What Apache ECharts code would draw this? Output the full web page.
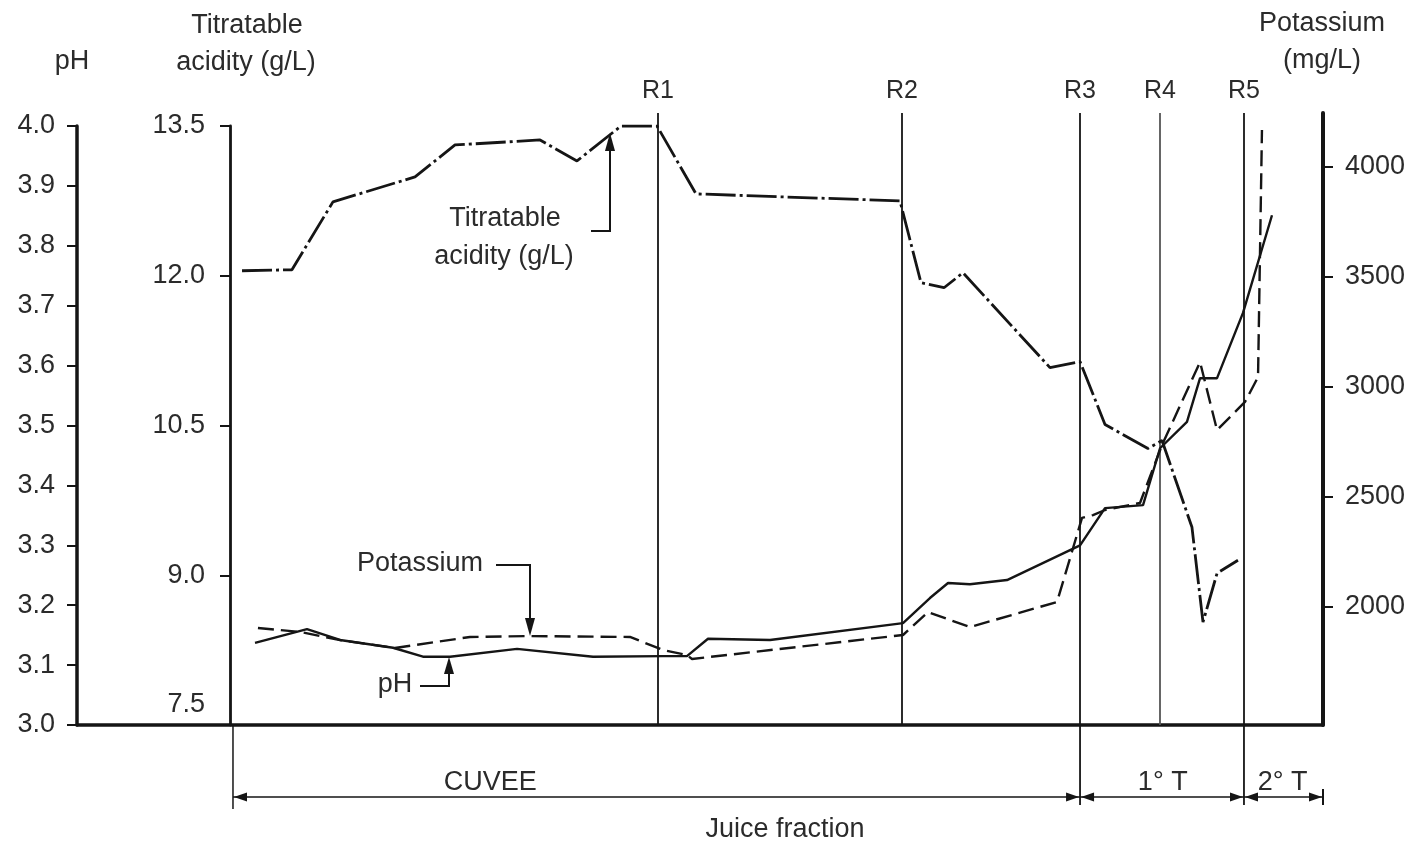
<!DOCTYPE html>
<html><head><meta charset="utf-8">
<script src="https://cdn.jsdelivr.net/npm/echarts@6/dist/echarts.min.js"></script>
<style>html,body{margin:0;padding:0;background:#fff}#c{width:1420px;height:845px}</style>
</head><body><div id="c"></div>
<script>
// ---------- data (juice fraction in % of total press cycle) ----------
const fractionNames = ['R1', 'R2', 'R3', 'R4', 'R5'];
const fractionX = [38.99, 61.38, 77.71, 85.05, 92.75];
const phaseNames = ['CUVEE', '1° T', '2° T'];
const phaseBounds = [0, 77.71, 92.75, 100];
const phaseLabelX = [23.6, 85.3, 96.3];

const phTicks = [3.0, 3.1, 3.2, 3.3, 3.4, 3.5, 3.6, 3.7, 3.8, 3.9, 4.0];
const taTicks = [7.5, 9.0, 10.5, 12.0, 13.5];
const kTicks = [2000, 2500, 3000, 3500, 4000];

const taX = [0.83, 5.41, 9.17, 16.70, 20.37, 28.17, 31.56, 35.60, 38.90, 42.48, 61.19, 63.12, 65.23, 66.97, 74.95, 77.71, 80.00, 83.94, 85.23, 87.98, 88.99, 90.28, 92.20];
const taY = [12.05, 12.06, 12.74, 12.99, 13.31, 13.36, 13.15, 13.50, 13.50, 12.82, 12.75, 11.93, 11.88, 12.03, 11.08, 11.14, 10.51, 10.27, 10.35, 9.48, 8.53, 9.02, 9.15];

const phX = [2.02, 6.79, 9.82, 14.68, 17.43, 19.91, 26.06, 33.03, 39.45, 41.65, 43.58, 49.27, 61.47, 63.94, 65.60, 67.61, 71.01, 77.71, 80.00, 83.49, 85.05, 87.52, 88.72, 90.28, 92.66, 95.32];
const phY = [3.137, 3.160, 3.142, 3.129, 3.114, 3.114, 3.127, 3.114, 3.115, 3.115, 3.144, 3.142, 3.170, 3.212, 3.237, 3.235, 3.242, 3.300, 3.362, 3.367, 3.462, 3.506, 3.579, 3.579, 3.688, 3.851];

const kX = [2.29, 6.15, 9.82, 14.86, 21.74, 27.25, 36.42, 39.45, 41.65, 42.11, 61.47, 63.76, 67.61, 75.60, 77.89, 78.90, 80.00, 83.21, 85.23, 88.72, 90.28, 92.84, 94.04, 94.40];
const kY = [1905, 1887, 1850, 1814, 1864, 1868, 1864, 1805, 1782, 1764, 1873, 1977, 1909, 2023, 2405, 2418, 2441, 2473, 2736, 3113, 2804, 2932, 3045, 4168];

// ---------- chart ----------
const FONT = '"Liberation Sans", Arial, Helvetica, sans-serif';
const INK = '#151515';
const TXT = '#2b2b2b';
const xMin = -14.31, xMax = 100;

const chart = echarts.init(document.getElementById('c'), null, {renderer: 'canvas'});

const labelStyle = {fontSize: 27, color: TXT, fontFamily: FONT};

chart.setOption({
  animation: false,
  backgroundColor: '#ffffff',
  grid: [
    {left: 77, right: 97, top: 126, bottom: 120, outerBoundsMode: 'none'},
    {left: 77, right: 97, top: 113, bottom: 120, outerBoundsMode: 'none'}
  ],
  xAxis: [
    {gridIndex: 0, type: 'value', min: xMin, max: xMax,
     axisLine: {show: true, onZero: false, lineStyle: {color: INK, width: 3.5}},
     axisTick: {show: false}, axisLabel: {show: false}, splitLine: {show: false}},
    {gridIndex: 1, type: 'value', min: xMin, max: xMax, show: false}
  ],
  yAxis: [
    {gridIndex: 0, type: 'value', position: 'left',
     min: phTicks[0], max: phTicks[phTicks.length - 1], interval: 0.1,
     axisLine: {show: true, onZero: false, lineStyle: {color: INK, width: 3.5}},
     axisTick: {show: true, length: 10, lineStyle: {color: INK, width: 2}},
     axisLabel: Object.assign({margin: 22, formatter: v => v.toFixed(1)}, labelStyle),
     splitLine: {show: false}},
    {gridIndex: 0, type: 'value', position: 'left', offset: -153,
     min: taTicks[0], max: taTicks[taTicks.length - 1], interval: 1.5,
     axisLine: {show: true, onZero: false, lineStyle: {color: INK, width: 2.8}},
     axisTick: {show: true, length: 10, lineStyle: {color: INK, width: 2}},
     axisLabel: Object.assign({margin: 25,
        formatter: v => v === taTicks[0] ? '{lo|' + v.toFixed(1) + '}' : v.toFixed(1),
        rich: {lo: {fontSize: 27, color: TXT, fontFamily: FONT, padding: [0, 0, 40, 0]}}}, labelStyle),
     splitLine: {show: false}},
    {gridIndex: 1, type: 'value', position: 'right', min: 1464, max: 4245,
     axisLine: {show: true, onZero: false, lineStyle: {color: INK, width: 4}},
     axisTick: {show: true, length: 10, customValues: kTicks, lineStyle: {color: INK, width: 2}},
     axisLabel: Object.assign({margin: 22, customValues: kTicks, formatter: v => String(v)}, labelStyle),
     splitLine: {show: false}}
  ],
  series: [
    {name: 'Titratable acidity', type: 'line', xAxisIndex: 0, yAxisIndex: 1,
     data: taX.map((x, i) => [x, taY[i]]), symbol: 'none', z: 5,
     lineStyle: {color: INK, width: 2.8, type: [30, 4, 3, 4]}},
    {name: 'pH', type: 'line', xAxisIndex: 0, yAxisIndex: 0,
     data: phX.map((x, i) => [x, phY[i]]), symbol: 'none', z: 5,
     lineStyle: {color: INK, width: 2.4, type: 'solid'}},
    {name: 'Potassium', type: 'line', xAxisIndex: 1, yAxisIndex: 2,
     data: kX.map((x, i) => [x, kY[i]]), symbol: 'none', z: 5,
     lineStyle: {color: INK, width: 2.4, type: [16, 7]},
     markLine: {
       silent: true, symbol: ['none', 'none'], animation: false,
       label: {show: true, position: 'end', formatter: '{b}', fontSize: 25, color: TXT, fontFamily: FONT, distance: 9},
       lineStyle: {color: INK, width: 1.8, type: 'solid'},
       data: fractionNames.map((n, i) => ({name: n, xAxis: fractionX[i],
         lineStyle: i === 3 ? {color: '#555', width: 1.8, type: 'solid'} : undefined}))
     }}
  ]
});

// ---------- annotations ----------
const xp = v => chart.convertToPixel({xAxisIndex: 0}, v);
const yBase = chart.convertToPixel({yAxisIndex: 0}, phTicks[0]);
const g = [];
function text(t, x, y, size) {
  g.push({type: 'text', x: x, y: y, silent: true,
    style: {text: t, font: size + 'px ' + FONT, fill: TXT, align: 'center', verticalAlign: 'middle',
            textAlign: 'center', textVerticalAlign: 'middle'}});
}
function line(x1, y1, x2, y2, w) {
  g.push({type: 'line', silent: true, shape: {x1, y1, x2, y2}, style: {stroke: INK, lineWidth: w || 1.6}});
}
function poly(points, w) {
  g.push({type: 'polyline', silent: true, shape: {points}, style: {stroke: INK, lineWidth: w || 2, fill: null}});
}
function tri(points) {
  g.push({type: 'polygon', silent: true, shape: {points}, style: {fill: INK}});
}

// axis titles
text('pH', 72, 62, 27);
text('Titratable', 247, 26, 27);
text('acidity (g/L)', 246, 63, 27);
text('Potassium', 1322, 24, 27);
text('(mg/L)', 1322, 61, 27);

// in-plot series labels with pointer arrows
text('Titratable', 505, 219, 27);
text('acidity (g/L)', 504, 257, 27);
poly([[591, 231], [610, 231], [610, 150]]);
tri([[610, 133], [605, 151], [615, 151]]);

text('Potassium', 420, 564, 27);
poly([[496, 565], [530, 565], [530, 620]]);
tri([[530, 636], [525, 618], [535, 618]]);

text('pH', 395, 685, 27);
poly([[420, 686], [449, 686], [449, 672]]);
tri([[449, 657], [444, 674], [454, 674]]);

// juice-fraction brackets below the axis
const yBr = yBase + 72;
line(xp(phaseBounds[0]), yBase, xp(phaseBounds[0]), yBase + 84, 1.5);
line(xp(phaseBounds[1]), yBase, xp(phaseBounds[1]), yBase + 80, 1.8);
line(xp(phaseBounds[2]), yBase, xp(phaseBounds[2]), yBase + 80, 1.8);
line(xp(phaseBounds[3]), yBr - 8, xp(phaseBounds[3]), yBr + 8, 2);
line(xp(phaseBounds[0]), yBr, xp(phaseBounds[3]), yBr, 1.6);
for (let i = 0; i < phaseNames.length; i++) {
  const a = xp(phaseBounds[i]) + 1, b = xp(phaseBounds[i + 1]) - 1;
  tri([[a, yBr], [a + 13, yBr - 4.5], [a + 13, yBr + 4.5]]);
  tri([[b, yBr], [b - 13, yBr - 4.5], [b - 13, yBr + 4.5]]);
  text(phaseNames[i], xp(phaseLabelX[i]), yBase + 58, 27);
}
text('Juice fraction', 785, 830, 27);

chart.setOption({graphic: g});
</script>
</body></html>
